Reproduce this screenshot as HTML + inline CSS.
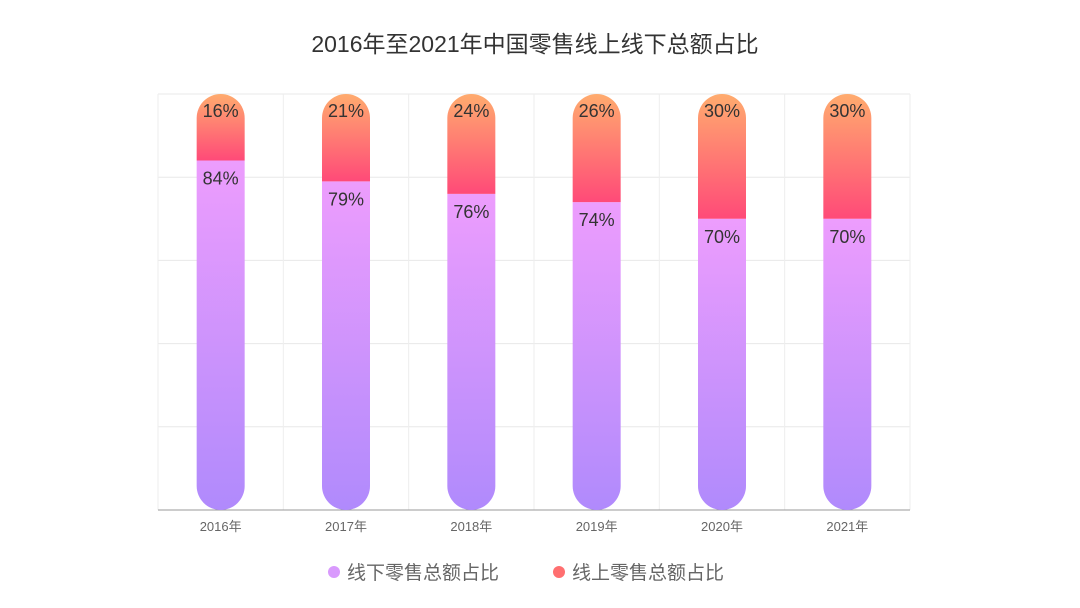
<!DOCTYPE html>
<html><head><meta charset="utf-8">
<style>
body{margin:0;background:#fff;}
svg{display:block;font-family:"Liberation Sans","Noto Sans CJK SC",sans-serif;}
</style></head>
<body>
<svg id="chart" width="1080" height="608" viewBox="0 0 1080 608">
<defs>
<linearGradient id="gOff" x1="0" y1="0" x2="0" y2="1"><stop offset="0" stop-color="#ed9dfd"/><stop offset="1" stop-color="#b08afc"/></linearGradient>
<linearGradient id="gOn" x1="0" y1="0" x2="0" y2="1"><stop offset="0" stop-color="#ffab6e"/><stop offset="1" stop-color="#ff4a78"/></linearGradient>
</defs>
<text x="535" y="52" text-anchor="middle" font-size="23" fill="#333">2016年至2021年中国零售线上线下总额占比</text>
<g id="grid"></g>
<g id="bars"></g>
<g id="labels"></g>
<g>
<circle cx="334" cy="572" r="6" fill="#d99afd"/>
<text x="347" y="579" font-size="19" fill="#666">线下零售总额占比</text>
<circle cx="559" cy="572" r="6" fill="#ff6f70"/>
<text x="572" y="579" font-size="19" fill="#666">线上零售总额占比</text>
</g>
</svg>
<script>
const categories=["2016年","2017年","2018年","2019年","2020年","2021年"];
const offline=[84,79,76,74,70,70];
const online=[16,21,24,26,30,30];
const NS="http://www.w3.org/2000/svg";
const L=158,R=910,T=94,B=510,BW=48;
const band=(R-L)/categories.length;
const x=i=>L+band*(i+0.5);
const y=v=>B-(v/100)*(B-T);
function mk(tag,attrs,parent){const e=document.createElementNS(NS,tag);for(const k in attrs)e.setAttribute(k,attrs[k]);parent.appendChild(e);return e;}
const grid=document.getElementById('grid'),bars=document.getElementById('bars'),labels=document.getElementById('labels');
for(let k=1;k<=5;k++){const gl=mk('line',{x1:L,x2:R,y1:y(k*20),y2:y(k*20),stroke:'#e8e8e8'},grid);

}
for(let i=0;i<=categories.length;i++){const vl=mk('line',{x1:L+band*i,x2:L+band*i,y1:T,y2:B,stroke:'#eeeeee'},grid);

}
const ax=mk('line',{x1:L,x2:R,y1:B,y2:B,stroke:'#999'},grid);


categories.forEach((c,i)=>{
 const cx=x(i),x0=cx-BW/2,r=BW/2;
 const yb=y(offline[i]),yt=y(offline[i]+online[i]);
 const off=mk('path',{d:`M${x0},${yb} H${x0+BW} V${B-r} A${r},${r} 0 0 1 ${x0},${B-r} Z`,fill:'url(#gOff)'},bars);
 
 
 const on=mk('path',{d:`M${x0},${yb} V${yt+r} A${r},${r} 0 0 1 ${x0+BW},${yt+r} V${yb} Z`,fill:'url(#gOn)'},bars);
 
 
 const t1=mk('text',{x:cx,y:yt+23,'text-anchor':'middle','font-size':18,fill:'#333'},labels);t1.textContent=online[i]+'%';
 
 
 const t2=mk('text',{x:cx,y:yb+24,'text-anchor':'middle','font-size':18,fill:'#333'},labels);t2.textContent=offline[i]+'%';
 
 
 const tl=mk('text',{x:cx,y:531,'text-anchor':'middle','font-size':13,fill:'#666'},labels);tl.textContent=c;
 
 
});
</script>
</body></html>
